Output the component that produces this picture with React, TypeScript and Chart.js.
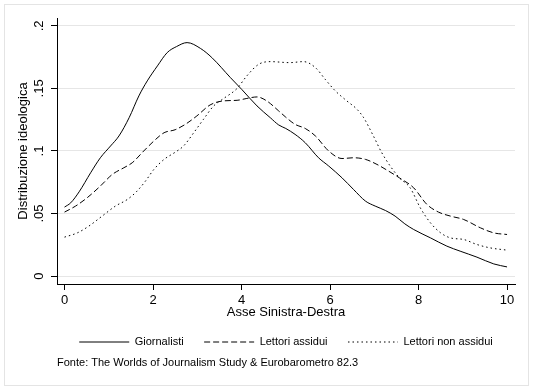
import { useEffect, useRef } from 'react';
import { Chart, registerables } from 'chart.js';

Chart.register(...registerables);

const FONT = '"Liberation Sans", Arial, Helvetica, sans-serif';

const xTickValues = [0, 2, 4, 6, 8, 10];
const xTickLabels = ['0', '2', '4', '6', '8', '10'];
const yTickValues = [0, 0.05, 0.1, 0.15, 0.2];
const yTickLabels = ['0', '.05', '.1', '.15', '.2'];

const seriesNames = ['Giornalisti', 'Lettori assidui', 'Lettori non assidui'];

const giorX = [0, 0.14, 0.33, 0.59, 0.81, 1.04, 1.23, 1.46, 1.68, 1.87, 2.1, 2.32, 2.53, 2.77, 3.07, 3.33, 3.75, 4.01, 4.35, 4.65, 4.84, 5.0, 5.21, 5.44, 5.74, 5.97, 6.27, 6.53, 6.8, 7.02, 7.25, 7.47, 7.69, 7.89, 8.27, 8.64, 8.94, 9.32, 9.7, 10];
const giorY = [0.0552, 0.0586, 0.0674, 0.0826, 0.0946, 0.104, 0.112, 0.1266, 0.144, 0.156, 0.168, 0.1786, 0.1834, 0.1866, 0.182, 0.1746, 0.1586, 0.149, 0.136, 0.1266, 0.1208, 0.118, 0.1133, 0.1066, 0.0946, 0.088, 0.0786, 0.0693, 0.06, 0.056, 0.0525, 0.048, 0.0418, 0.0373, 0.0306, 0.024, 0.02, 0.0152, 0.0098, 0.0074];

const assX = [0, 0.25, 0.51, 0.81, 1.08, 1.34, 1.53, 1.79, 2.06, 2.25, 2.5, 2.73, 2.99, 3.29, 3.59, 3.9, 4.12, 4.35, 4.57, 4.84, 5.0, 5.21, 5.44, 5.67, 5.97, 6.27, 6.53, 6.8, 7.06, 7.32, 7.57, 7.89, 8.19, 8.45, 8.72, 9.02, 9.4, 9.7, 10];
const assY = [0.0512, 0.056, 0.0626, 0.072, 0.0813, 0.0866, 0.0906, 0.1, 0.1093, 0.1146, 0.117, 0.1213, 0.128, 0.1368, 0.14, 0.1405, 0.142, 0.1432, 0.14, 0.132, 0.127, 0.1213, 0.118, 0.112, 0.1, 0.094, 0.0946, 0.0933, 0.0893, 0.084, 0.0785, 0.0706, 0.0573, 0.0512, 0.048, 0.0453, 0.0386, 0.0346, 0.0333];

const nonX = [0, 0.29, 0.55, 0.85, 1.15, 1.42, 1.64, 1.83, 2.02, 2.25, 2.5, 2.69, 2.92, 3.14, 3.37, 3.59, 3.9, 4.12, 4.39, 4.65, 5.09, 5.4, 5.67, 5.89, 6.12, 6.38, 6.61, 6.76, 6.98, 7.17, 7.36, 7.57, 7.81, 8.04, 8.27, 8.5, 8.72, 9.02, 9.32, 9.62, 10];
const nonY = [0.0312, 0.0346, 0.04, 0.048, 0.056, 0.0613, 0.068, 0.076, 0.0853, 0.0933, 0.099, 0.104, 0.1146, 0.1253, 0.136, 0.1418, 0.15, 0.16, 0.1693, 0.1714, 0.1706, 0.1714, 0.1666, 0.1573, 0.148, 0.14, 0.1333, 0.1266, 0.112, 0.0986, 0.088, 0.0785, 0.0706, 0.0546, 0.0426, 0.0346, 0.0306, 0.0293, 0.0253, 0.0226, 0.0208];

const xTitle = 'Asse Sinistra-Destra';
const yTitle = 'Distribuzione ideologica';
const footnote = 'Fonte: The Worlds of Journalism Study & Eurobarometro 82.3';

const toPoints = (xs: number[], ys: number[]) => xs.map((x, i) => ({ x, y: ys[i] }));

export default function App() {
  const ref = useRef<HTMLCanvasElement>(null);

  useEffect(() => {
    document.body.style.margin = '0';
    const frame = {
      id: 'frame',
      beforeDraw(chart: any) {
        const c = chart.ctx;
        c.save();
        c.fillStyle = '#ffffff';
        c.fillRect(0, 0, chart.width, chart.height);
        c.strokeStyle = '#e4e4e4';
        c.lineWidth = 1;
        c.strokeRect(4.5, 4.5, 524, 381);
        c.restore();
      },
    };

    const common = {
      borderColor: '#000000',
      backgroundColor: '#000000',
      borderWidth: 1,
      pointRadius: 0,
      fill: false,
      cubicInterpolationMode: 'monotone' as const,
    };

    const chart = new Chart(ref.current as HTMLCanvasElement, {
      type: 'line',
      data: {
        datasets: [
          { ...common, label: seriesNames[0], data: toPoints(giorX, giorY) },
          { ...common, label: seriesNames[1], data: toPoints(assX, assY), borderDash: [6, 3] },
          { ...common, label: seriesNames[2], data: toPoints(nonX, nonY), borderDash: [1.5, 3] },
        ],
      },
      options: {
        responsive: false,
        animation: false,
        devicePixelRatio: 1,
        layout: { padding: { top: 18, right: 18, bottom: 21.3, left: 0 } },
        plugins: {
          legend: {
            position: 'bottom',
            fullSize: false,
            labels: {
              usePointStyle: true,
              pointStyle: 'line',
              pointStyleWidth: 50,
              padding: 20.5,
              color: '#000000',
              font: { family: FONT, size: 11 },
              generateLabels: (ch: any) => {
                const items = (Chart.defaults as any).plugins.legend.labels.generateLabels(ch);
                return items.map((it: any) => {
                  const ds: any = ch.data.datasets[it.datasetIndex];
                  return {
                    ...it,
                    lineDash: ds.borderDash || [],
                    lineWidth: 1,
                    strokeStyle: '#000000',
                    fillStyle: '#000000',
                    pointStyle: 'line',
                  };
                });
              },
            },
          },
          subtitle: {
            display: true,
            text: footnote,
            position: 'bottom',
            align: 'start',
            fullSize: false,
            color: '#000000',
            font: { family: FONT, size: 11, weight: 'normal' },
            padding: { top: -1, bottom: 0 },
          },
          tooltip: { enabled: false },
        },
        scales: {
          x: {
            type: 'linear',
            min: -0.17,
            max: 10.18,
            afterBuildTicks: (s: any) => {
              s.ticks = xTickValues.map((v) => ({ value: v }));
            },
            afterFit: (s: any) => {
              s.height = 32;
            },
            ticks: {
              callback: (_v: any, i: number) => xTickLabels[i],
              color: '#000000',
              font: { family: FONT, size: 13 },
              padding: 3,
              maxRotation: 0,
              autoSkip: false,
            },
            grid: { drawOnChartArea: false, tickLength: 6, tickColor: '#000000' },
            border: { color: '#000000', width: 1 },
            title: {
              display: true,
              text: xTitle,
              color: '#000000',
              font: { family: FONT, size: 13 },
              padding: { top: 0, bottom: -3.8 },
            },
          },
          y: {
            type: 'linear',
            min: -0.00625,
            max: 0.20625,
            afterBuildTicks: (s: any) => {
              s.ticks = yTickValues.map((v) => ({ value: v }));
            },
            afterFit: (s: any) => {
              s.width = 57;
            },
            ticks: {
              callback: (_v: any, i: number) => yTickLabels[i],
              color: '#000000',
              font: { family: FONT, size: 13 },
              padding: 3,
              crossAlign: 'center',
              minRotation: 90,
              maxRotation: 90,
              autoSkip: false,
            },
            grid: { color: '#e6e6e6', tickLength: 6, tickColor: '#000000' },
            border: { color: '#000000', width: 1 },
            title: {
              display: true,
              text: yTitle,
              color: '#000000',
              font: { family: FONT, size: 13 },
              padding: { top: 16, bottom: 0 },
            },
          },
        },
      },
      plugins: [frame],
    });
    return () => chart.destroy();
  }, []);

  return <canvas ref={ref} width={533} height={391} style={{ display: 'block' }} />;
}
